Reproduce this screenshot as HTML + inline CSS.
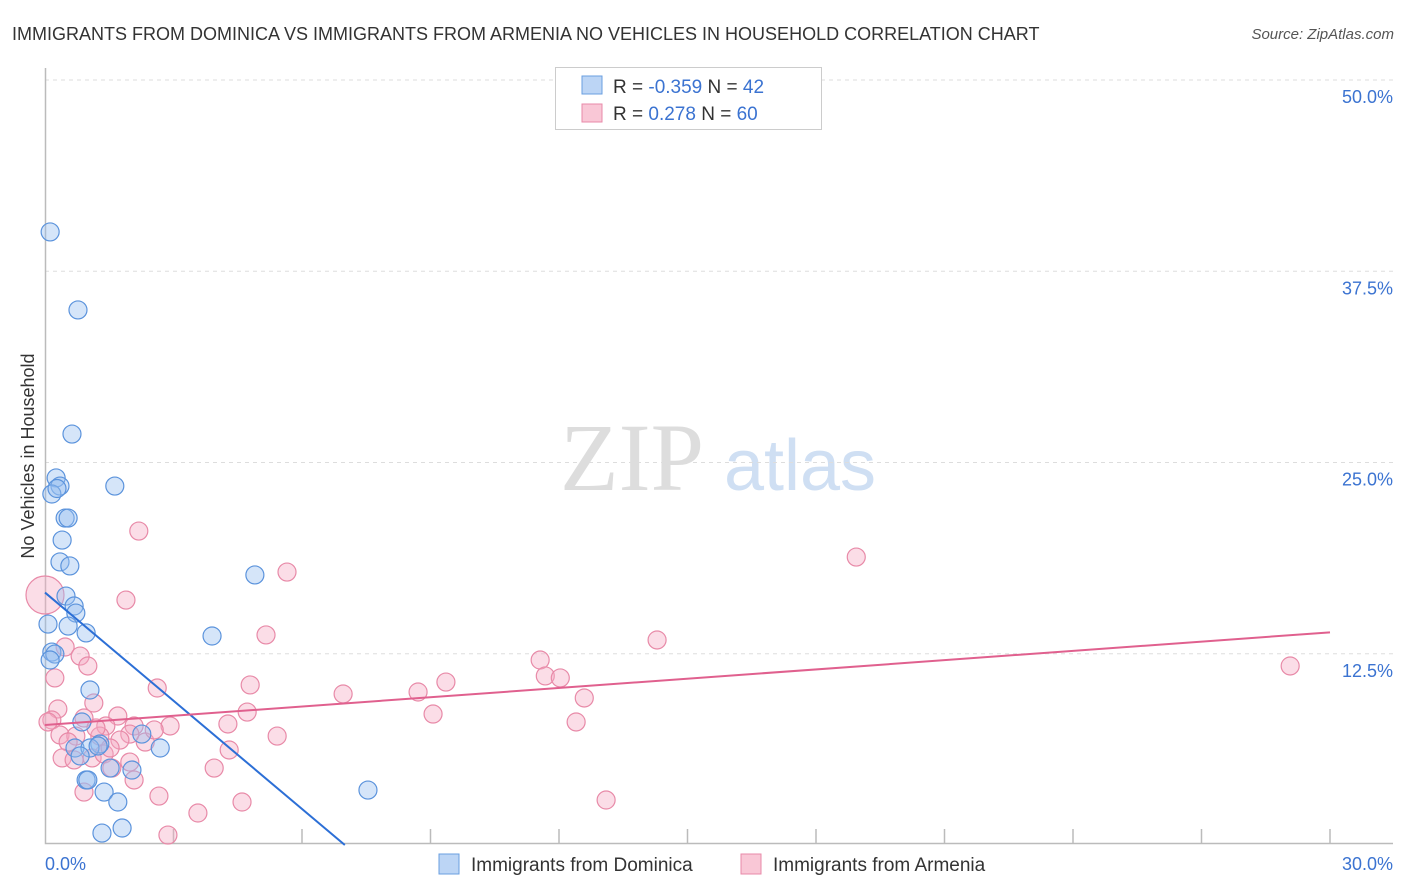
<!DOCTYPE html>
<html><head><meta charset="utf-8"><style>
body{margin:0;background:#fff;font-family:"Liberation Sans",sans-serif}
svg{display:block}
</style></head><body>
<svg id="c" width="1406" height="892" xmlns="http://www.w3.org/2000/svg">
<text x="12" y="40" font-size="18" fill="#333">IMMIGRANTS FROM DOMINICA VS IMMIGRANTS FROM ARMENIA NO VEHICLES IN HOUSEHOLD CORRELATION CHART</text>
<text x="1394" y="39" font-size="15" fill="#555" text-anchor="end" font-style="italic">Source: ZipAtlas.com</text>
<text x="34" y="456" font-size="18" fill="#333" text-anchor="middle" transform="rotate(-90 34 456)">No Vehicles in Household</text>
<g><text x="632" y="490" font-size="96" font-family="Liberation Serif,serif" fill="#ddd" text-anchor="middle">ZIP</text><text x="800" y="490" font-size="72" fill="#cfdff3" text-anchor="middle">atlas</text></g>
<g id="grid"></g><g id="marks"></g><g id="lines"></g>
<g>
<rect x="555.5" y="67.5" width="266" height="62" fill="#fff" stroke="#ccc"/>
<rect x="582" y="76" width="20" height="18" fill="#bcd5f5" stroke="#6a9fe0"/>
<rect x="582" y="104" width="20" height="18" fill="#f9c7d6" stroke="#e88aa8"/>
<text x="613" y="93" font-size="19" fill="#333">R = <tspan fill="#3b73d1">-0.359</tspan>   N = <tspan fill="#3b73d1">42</tspan></text>
<text x="613" y="120" font-size="19" fill="#333">R =  <tspan fill="#3b73d1"> 0.278</tspan>   N = <tspan fill="#3b73d1">60</tspan></text>
</g>
<g>
<rect x="439" y="854" width="20" height="20" fill="#bcd5f5" stroke="#6a9fe0"/>
<text x="471" y="871" font-size="19" fill="#333">Immigrants from Dominica</text>
<rect x="741" y="854" width="20" height="20" fill="#f9c7d6" stroke="#e88aa8"/>
<text x="773" y="871" font-size="19" fill="#333">Immigrants from Armenia</text>
</g>
</svg>
<script>
const yTicks=[12.5,25,37.5,50];
const yTickLabels=["12.5%","25.0%","37.5%","50.0%"];
const xTickCount=10;
const xLabels=["0.0%","30.0%"];
const domX=[0.12,0.77,0.63,0.26,0.35,0.16,1.63,0.47,0.54,0.40,0.35,0.58,4.90,0.49,0.68,0.72,0.07,0.54,0.96,3.90,0.16,0.23,0.12,1.05,0.86,1.28,0.70,1.05,1.24,0.82,2.26,2.69,1.52,2.03,0.96,1.00,1.38,1.70,7.54,1.33,1.80,0.28];
const domY=[40.07,34.97,26.86,23.99,23.46,22.94,23.46,21.37,21.37,19.93,18.50,18.24,17.65,16.27,15.62,15.16,14.44,14.31,13.86,13.66,12.61,12.48,12.09,10.13,8.04,6.60,6.34,6.34,6.47,5.82,7.25,6.34,5.03,4.90,4.25,4.25,3.46,2.81,3.59,0.78,1.11,23.3];
const armX=[0,2.19,5.65,1.89,18.94,5.16,14.29,0.47,0.82,1.00,0.23,11.56,11.68,12.03,9.36,4.79,2.62,6.96,8.71,12.59,29.07,9.06,1.14,0.30,0.91,1.70,0.16,0.07,1.42,2.92,4.27,4.72,12.40,2.08,0.35,0.72,1.28,2.34,1.98,2.55,5.42,0.54,4.30,0.40,1.10,1.38,1.98,3.95,1.56,2.08,0.91,2.66,4.60,13.10,3.57,2.87,0.68,1.75,1.19,1.52];
const armY=[16.34,20.52,17.84,16.01,18.82,13.73,13.40,12.94,12.35,11.70,10.92,12.09,11.05,10.92,10.65,10.46,10.26,9.87,10.00,9.61,11.70,8.56,9.28,8.89,8.30,8.43,8.17,8.04,7.78,7.78,7.91,8.69,8.04,7.78,7.19,7.12,7.12,6.73,7.25,7.52,7.12,6.73,6.21,5.69,5.69,5.95,5.42,5.03,5.03,4.25,3.46,3.20,2.81,2.94,2.09,0.65,5.56,6.86,7.65,6.34];
const domTrend=[[0,16.5],[7.0,0]];
const armTrend=[[0,7.84],[30,13.9]];
const NS="http://www.w3.org/2000/svg";
const X0=45,X1=1330,Y0=845,PXY=15.3;
const sx=v=>X0+v/30*(X1-X0);
const sy=v=>Y0-v*PXY;
function mk(t,a,p){const e=document.createElementNS(NS,t);for(const k in a)e.setAttribute(k,a[k]);p.appendChild(e);return e;}
const grid=document.getElementById('grid');
yTicks.forEach((t,i)=>{
 const l=mk('line',{x1:45,x2:1393,y1:sy(t),y2:sy(t),stroke:'#ddd','stroke-dasharray':'4,4'},grid);
 
 
 const tx=mk('text',{x:1393,y:sy(t)+23,'font-size':18,fill:'#3b73d1','text-anchor':'end'},grid);
 tx.textContent=yTickLabels[i];
 
 
});
const ax=mk('path',{d:'M45.5,68V843.5H1393',fill:'none',stroke:'#bbb','stroke-width':1.5},grid);


for(let i=1;i<=xTickCount;i++){
 const t=mk('line',{x1:sx(i*3),x2:sx(i*3),y1:829,y2:843,stroke:'#bbb','stroke-width':1.5},grid);
 
 
}
const xl0=mk('text',{x:45,y:870,'font-size':18,fill:'#3b73d1'},grid);xl0.textContent=xLabels[0];


const xl1=mk('text',{x:1393,y:870,'font-size':18,fill:'#3b73d1','text-anchor':'end'},grid);xl1.textContent=xLabels[1];


const marks=document.getElementById('marks');
armX.forEach((x,i)=>{
 const c=mk('circle',{cx:sx(x),cy:sy(armY[i]),r:i===0?19:9,fill:'rgba(245,170,195,0.4)',stroke:'#e88aa8','stroke-width':1.2},marks);
 
 
});
domX.forEach((x,i)=>{
 const c=mk('circle',{cx:sx(x),cy:sy(domY[i]),r:9,fill:'rgba(150,190,240,0.4)',stroke:'#5b93dc','stroke-width':1.2},marks);
 
 
});
const lines=document.getElementById('lines');
const bl=mk('line',{x1:sx(domTrend[0][0]),y1:sy(domTrend[0][1]),x2:sx(domTrend[1][0]),y2:sy(domTrend[1][1]),stroke:'#2c6fd6','stroke-width':2},lines);


const pl=mk('line',{x1:sx(armTrend[0][0]),y1:sy(armTrend[0][1]),x2:sx(armTrend[1][0]),y2:sy(armTrend[1][1]),stroke:'#e0608e','stroke-width':2},lines);


</script>
</body></html>
